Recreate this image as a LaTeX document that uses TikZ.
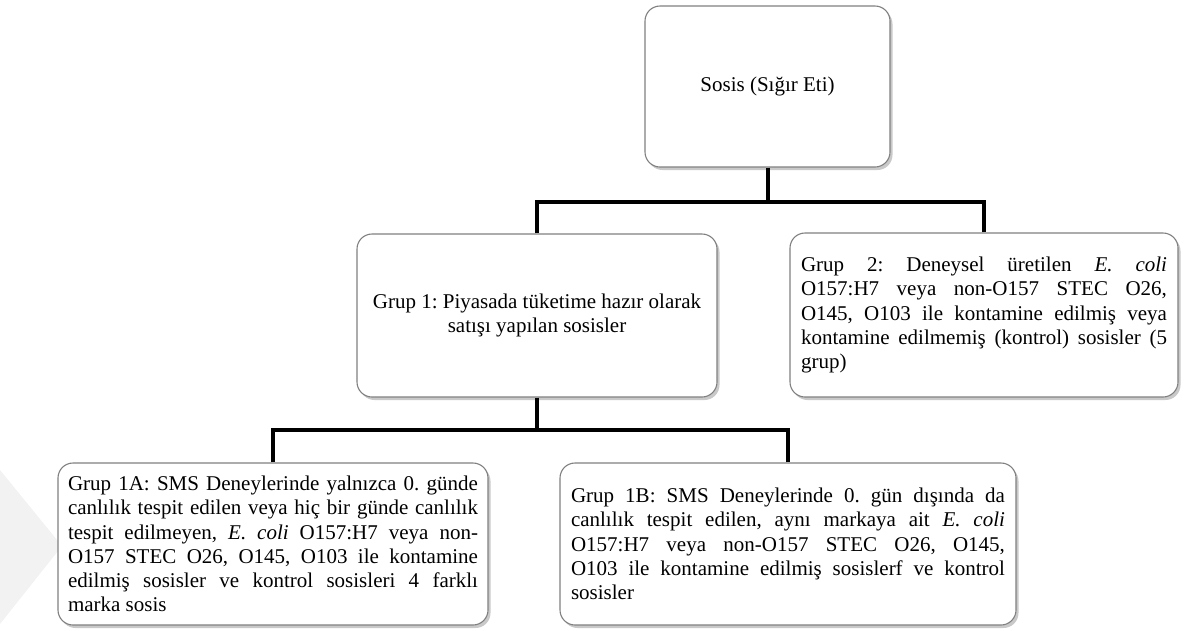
\documentclass[tikz,border=0pt]{standalone}
\usepackage{fontspec}
\setmainfont{Liberation Serif}
\usetikzlibrary{shadows}
\frenchspacing
\begin{document}
\begin{tikzpicture}[x=1pt,y=-1pt,
  box/.style={draw=black!50, line width=1.1pt, fill=white, rounded corners=15pt,
    inner sep=0pt, anchor=center,
    drop shadow={shadow xshift=2.5pt, shadow yshift=-3pt, opacity=0.3, fill=black!70},
    font=\fontsize{21}{24.3}\selectfont},
  jbox/.style={box, align=justify,
    execute at begin node={\frenchspacing\pretolerance=-1\tolerance=10000\hyphenpenalty=10000\emergencystretch=0pt}},
  conn/.style={draw=black, line width=4pt}
]
\useasboundingbox (0,0) rectangle (1187,630);
% faint watermark
\fill[black!5] (0,470) -- (62,546) -- (0,624) -- cycle;

\node[box, minimum width=245pt, minimum height=161pt, align=center] (top) at (767.5,86.5) {Sosis (Sığır Eti)};
\node[box, minimum width=360pt, minimum height=163pt, align=center] (g1) at (537,315.5)
  {Grup 1: Piyasada tüketime hazır olarak\\ satışı yapılan sosisler};
\node[jbox, minimum width=388pt, minimum height=164pt, text width=366pt] (g2) at (984,315)
  {Grup 2: Deneysel üretilen \textit{E. coli}\linebreak O157:H7 veya non-O157 STEC O26,\linebreak O145, O103 ile kontamine edilmiş veya\linebreak kontamine edilmemiş (kontrol) sosisler (5\linebreak grup)};
\node[jbox, minimum width=430pt, minimum height=162pt, text width=410pt] (g1a) at (273,544)
  {Grup 1A: SMS Deneylerinde yalnızca 0. günde\linebreak canlılık tespit edilen veya hiç bir günde canlılık\linebreak tespit edilmeyen, \textit{E. coli} O157:H7 veya non-\linebreak O157 STEC O26, O145, O103 ile kontamine\linebreak edilmiş sosisler ve kontrol sosisleri 4 farklı\linebreak marka sosis};
\node[jbox, minimum width=456pt, minimum height=162pt, text width=434pt] (g1b) at (788,544)
  {Grup 1B: SMS Deneylerinde 0. gün dışında da\linebreak canlılık tespit edilen, aynı markaya ait \textit{E. coli}\linebreak O157:H7 veya non-O157 STEC O26, O145,\linebreak O103 ile kontamine edilmiş sosislerf ve kontrol\linebreak sosisler};

\coordinate (j1) at (767.5,202);
\coordinate (j2) at (537,430);
\draw[conn] (top.south) -- (j1);
\draw[conn] (g1.north) |- (j1);
\draw[conn] (g2.north) |- (j1);
\draw[conn] (g1.south) -- (j2);
\draw[conn] (g1a.north) |- (j2);
\draw[conn] (g1b.north) |- (j2);
\end{tikzpicture}
\end{document}
